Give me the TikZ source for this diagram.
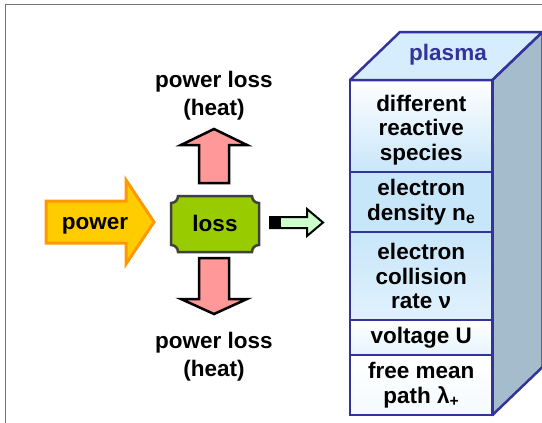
\documentclass[tikz,border=0pt]{standalone}
\usepackage{fontspec}
\setmainfont{Liberation Sans}
\usetikzlibrary{positioning}
\definecolor{PlasmaBlue}{RGB}{51,51,153}
\definecolor{PowerYellow}{RGB}{255,204,0}
\definecolor{PowerOrange}{RGB}{255,153,0}
\definecolor{LossGreen}{RGB}{153,204,0}
\definecolor{HeatPink}{RGB}{255,153,153}
\definecolor{TopBlue}{RGB}{213,237,252}
\definecolor{SideGray}{RGB}{165,188,204}
\definecolor{CellBlue}{RGB}{200,230,250}

\begin{document}
\begin{tikzpicture}[
    x=1pt, y=-1pt,
    every node/.style={font=\bfseries\fontsize{22.5}{28}\selectfont, align=center, inner sep=0pt},
    heatarrow/.style={fill=HeatPink, draw=black, line width=2.5pt, line join=miter},
    cell/.style={draw=PlasmaBlue, line width=2.5pt, minimum width=142.5pt, inner sep=2pt, outer sep=0pt,
                 font=\bfseries\fontsize{22.5}{24.5}\selectfont},
    face/.style={draw=PlasmaBlue, line width=2.5pt, line join=round}
]
    \useasboundingbox (0,0) rectangle (542,423);
    \draw[black!55, line width=1pt] (5.5,423) -- (5.5,4.5) -- (542,4.5);

    \draw[fill=PowerYellow, draw=PowerOrange, line width=3pt, line join=miter]
        (46,201) -- (126,201) -- (126,180) -- (154,222) -- (126,264) -- (126,243) -- (46,243) -- cycle;
    \node (power) at (95,226) {power};

    \draw[fill=LossGreen, draw=black!75, line width=2.5pt]
        (178,196) -- (252,196) .. controls (252,200) and (255,203) .. (259,203)
        -- (259,245) .. controls (255,245) and (252,248) .. (252,252)
        -- (178,252) .. controls (178,248) and (175,245) .. (171,245)
        -- (171,203) .. controls (175,203) and (178,200) .. (178,196) -- cycle;
    \node (loss) at (215,223) {loss};

    \draw[heatarrow] (199,183) -- (199,145) -- (181,145) -- (214,129) -- (247,145) -- (229,145) -- (229,183) -- cycle;
    \draw[heatarrow] (199,258) -- (229,258) -- (229,299) -- (247,299) -- (214,314) -- (181,299) -- (199,299) -- cycle;
    \node (heatup) at (214,95.5) {power loss\\(heat)};
    \node (heatdown) at (214,356.5) {power loss\\(heat)};

    \draw[fill=green!20, draw=black, line width=2pt, line join=miter]
        (270,217) -- (307,217) -- (307,209) -- (323,222.5) -- (307,236) -- (307,228) -- (270,228) -- cycle;
    \fill[black] (269,216) rectangle (281,229);

    \node[cell, top color=white, bottom color=CellBlue, text height=78pt, text depth=10pt] (species) at (421.25,126) {different\\reactive\\species};
    \node[cell, below=0pt of species, fill=CellBlue, minimum height=60pt] (density) {electron\\density n\textsubscript{e}};
    \node[cell, below=0pt of density, top color=CellBlue, bottom color=CellBlue!55!white, minimum height=88pt] (collision) {electron\\collision\\rate ν};
    \node[cell, below=0pt of collision, top color=white, bottom color=CellBlue!45!white, minimum height=35pt] (voltage) {voltage U};
    \node[cell, below=0pt of voltage, top color=white, bottom color=CellBlue!20!white, minimum height=60pt] (path) {free mean\\path λ\textsubscript{+}};

    \draw[face, fill=TopBlue] (species.north west) -- ++(50,-48) -- ++(142.5,0) -- (species.north east) -- cycle;
    \draw[face, fill=SideGray] (species.north east) -- ++(50,-48) -- ++(0,335) -- (path.south east) -- cycle;
    \node[text=PlasmaBlue] (plasma) at (448,55) {plasma};
\end{tikzpicture}
\end{document}
